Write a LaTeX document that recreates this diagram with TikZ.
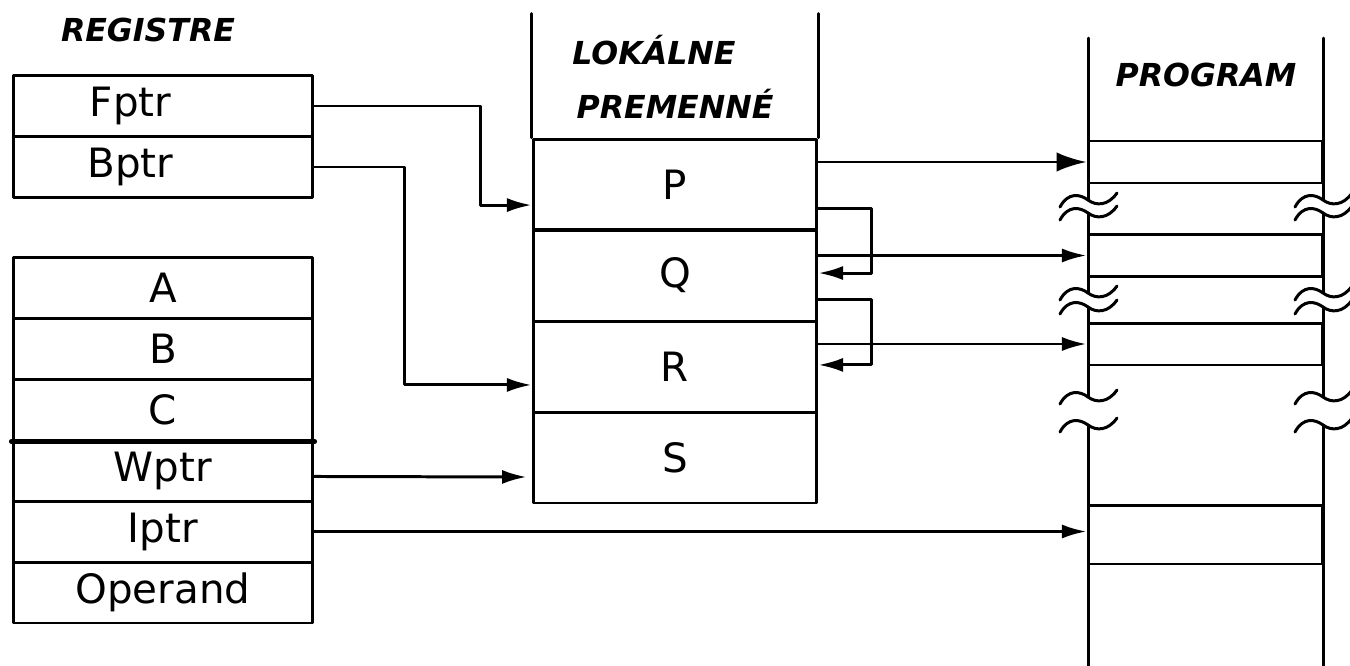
\documentclass[tikz,border=0pt]{standalone}
\usepackage{fontspec}
\setmainfont{DejaVu Sans}
\usetikzlibrary{arrows.meta}
\newcommand{\brkmark}[2]{\draw (#1-28,#2+7) .. controls (#1-20,#2-8) and (#1-8,#2-6) .. (#1,#2) .. controls (#1+8,#2+6) and (#1+20,#2+6) .. (#1+29,#2-7);}

\begin{document}
\begin{tikzpicture}[x=0.02cm, y=-0.02cm, line width=1.7pt, line join=round, line cap=round, >={Latex[length=14pt,width=8pt]},
	reg/.style={draw, minimum width=6cm, minimum height=1.22cm, inner sep=0pt, font=\fontsize{23}{26}\selectfont},
	var/.style={draw, minimum width=5.68cm, minimum height=1.82cm, inner sep=0pt, font=\fontsize{23}{26}\selectfont},
	cell/.style={draw, minimum width=4.7cm, minimum height=0.84cm, inner sep=0pt},
	head/.style={font=\fontsize{18}{22}\selectfont\bfseries\itshape}]
		\useasboundingbox (0,0) rectangle (1350,666);
		\node[head] (regt) at (148,30) {REGISTRE};
		\node[reg] (fptr) at (163,106) {Fptr\rule{1.3cm}{0pt}};
		\node[reg] (bptr) at (163,167) {Bptr\rule{1.3cm}{0pt}};
		\node[reg] (rga) at (163,287.5) {A};
		\node[reg] (rgb) at (163,348.5) {B};
		\node[reg] (rgc) at (163,409.5) {C};
		\node[reg] (wptr) at (163,470.5) {Wptr};
		\node[reg] (iptr) at (163,531.5) {Iptr};
		\node[reg] (oper) at (163,592.5) {Operand};
		\draw[line width=3pt] (rgc.south west) -- (rgc.south east);
		\node[head] (lok) at (654,50) {LOKÁLNE};
		\node[head] (prem) at (675,104) {PREMENNÉ};
		\node[var] (vp) at (675,184.5) {P};
		\node[var] (vq) at (675,275.5) {Q};
		\node[var] (vr) at (675,366.5) {R};
		\node[var] (vs) at (675,457.5) {S};
		\draw (vp.north west) -- ++(0,-124);
		\draw (vp.north east) -- ++(0,-124);
		\node[head] (prog) at (1206,75) {PROGRAM};
		\node[cell] (pr1) at (1205.5,162) {};
		\node[cell] (pr2) at (1205.5,255.5) {};
		\node[cell] (pr3) at (1205.5,344) {};
		\node[cell, minimum height=1.18cm] (pr4) at (1205.5,534.5) {};
		\foreach \xx in {1088,1323} {
			\draw (\xx,38) -- (\xx,200) (\xx,213) -- (\xx,293) (\xx,307) -- (\xx,397) (\xx,425) -- (\xx,666);
			\foreach \yy in {200,213,293,307,397,425} {\brkmark{\xx}{\yy}}
		}
		\draw[->] (fptr.east) -- ++(166,0) |- ([yshift=-11.7pt]vp.west);
		\draw[->] (bptr.east) -- ++(90,0) |- ([yshift=-10.5pt]vr.west);
		\draw[->] ([yshift=-3.4pt]wptr.east) -- ([xshift=-2.8pt, yshift=-11.1pt]vs.west);
		\draw[->] (iptr.east) -- (iptr.east -| pr4.west);
		\draw[-{Latex[length=17pt,width=11pt]}] (vp.east |- pr1.west) -- (pr1.west);
		\draw[->] ([yshift=-13.4pt]vp.east) -- ++(53,0) |- ([yshift=1.4pt]vq.east);
		\draw[->] (vq.east |- pr2.west) -- (pr2.west);
		\draw[->] ([yshift=-13.9pt]vq.east) -- ++(53,0) |- ([yshift=0.9pt]vr.east);
		\draw[->] (vr.east |- pr3.west) -- (pr3.west);
	\end{tikzpicture}
\end{document}
